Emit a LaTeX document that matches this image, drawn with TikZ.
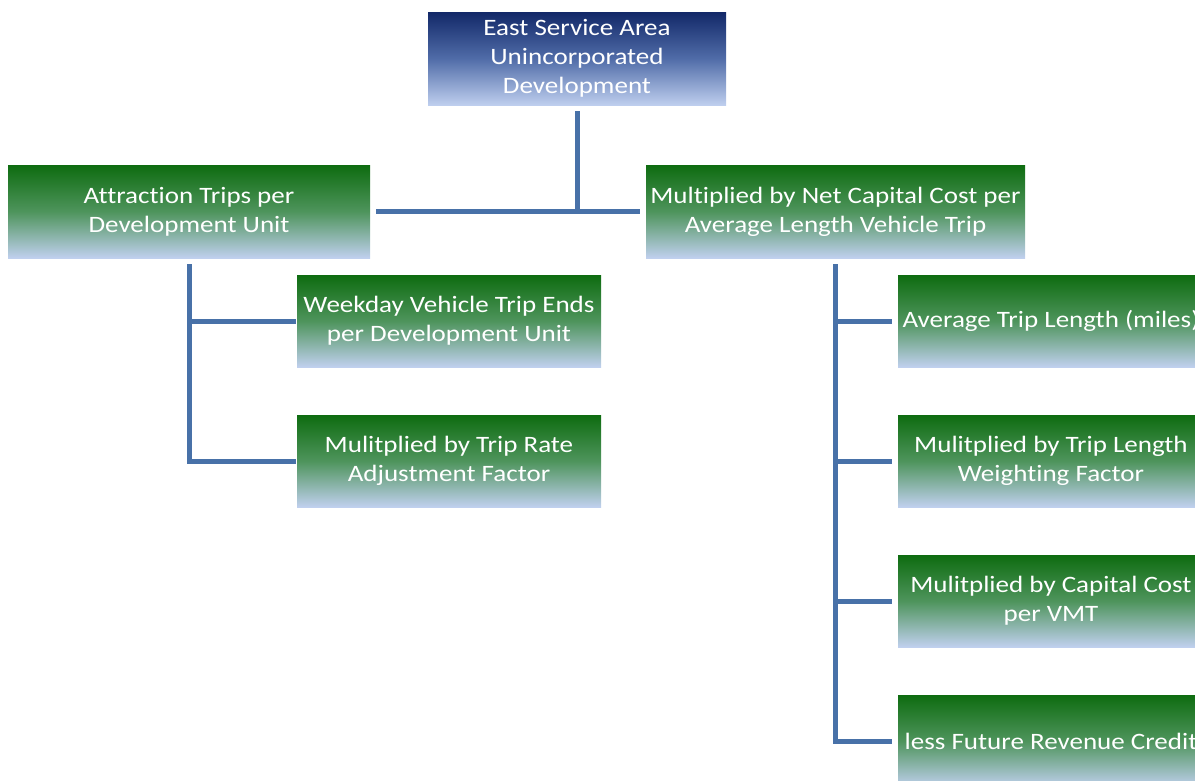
\documentclass[tikz,border=0pt]{standalone}
\usepackage{fontspec}
\setmainfont{Carlito}[FakeStretch=1.15,Ligatures=CommonOff]
\definecolor{gtop}{RGB}{14,108,16}
\definecolor{gmid}{RGB}{78,148,92}
\definecolor{gbot}{RGB}{192,208,238}
\definecolor{btop}{RGB}{18,40,104}
\definecolor{bmid}{RGB}{80,108,168}
\definecolor{bbot}{RGB}{190,206,238}
\definecolor{conncol}{RGB}{72,113,168}
\tikzset{
  gbox/.style={rectangle, inner sep=0pt, text=white, align=center,
    top color=gtop, bottom color=gbot, middle color=gmid,
    font=\fontsize{23.5}{29}\selectfont},
  bbox/.style={gbox, top color=btop, bottom color=bbot, middle color=bmid},
  conn/.style={draw=conncol, line width=5pt}
}
\begin{document}
\begin{tikzpicture}[x=1pt,y=-1pt]
\useasboundingbox (0,0) rectangle (1195,780);
\clip (0,0) rectangle (1195,780);
\node[bbox, minimum width=298pt, minimum height=93pt] (top) at (577,58.5) {East Service Area\\Unincorporated\\Development};
\node[gbox, minimum width=362pt, minimum height=93pt] (left) at (189,211.5) {Attraction Trips per\\Development Unit};
\node[gbox, minimum width=379pt, minimum height=93pt] (right) at (835.5,211.5) {Multiplied by Net Capital Cost per\\Average Length Vehicle Trip};
\node[gbox, minimum width=304pt, minimum height=92pt] (l1) at (449,321) {Weekday Vehicle Trip Ends\\per Development Unit};
\node[gbox, minimum width=304pt, minimum height=92pt] (l2) at (449,461) {Mulitplied by Trip Rate\\Adjustment Factor};
\node[gbox, minimum width=306pt, minimum height=92pt] (r1) at (1051,321) {Average Trip Length (miles)};
\node[gbox, minimum width=306pt, minimum height=92pt] (r2) at (1051,461) {Mulitplied by Trip Length\\Weighting Factor};
\node[gbox, minimum width=306pt, minimum height=92pt] (r3) at (1051,601) {Mulitplied by Capital Cost\\per VMT};
\node[gbox, minimum width=306pt, minimum height=92pt] (r4) at (1051,741) {less Future Revenue Credit};
% connectors
\draw[conn] ([xshift=6pt]left.east) -- ([xshift=-6pt]right.west);
\draw[conn] ([yshift=-6pt]top.south) -- (top.south |- left.east);
\draw[conn] ([yshift=-6pt]left.south) |- ([xshift=-1pt]l2.west);
\draw[conn] (left.south |- l1.west) -- ([xshift=-1pt]l1.west);
\draw[conn] ([yshift=-6pt]right.south) |- ([xshift=-6pt]r4.west);
\draw[conn] (right.south |- r1.west) -- ([xshift=-6pt]r1.west);
\draw[conn] (right.south |- r2.west) -- ([xshift=-6pt]r2.west);
\draw[conn] (right.south |- r3.west) -- ([xshift=-6pt]r3.west);
\end{tikzpicture}
\end{document}
